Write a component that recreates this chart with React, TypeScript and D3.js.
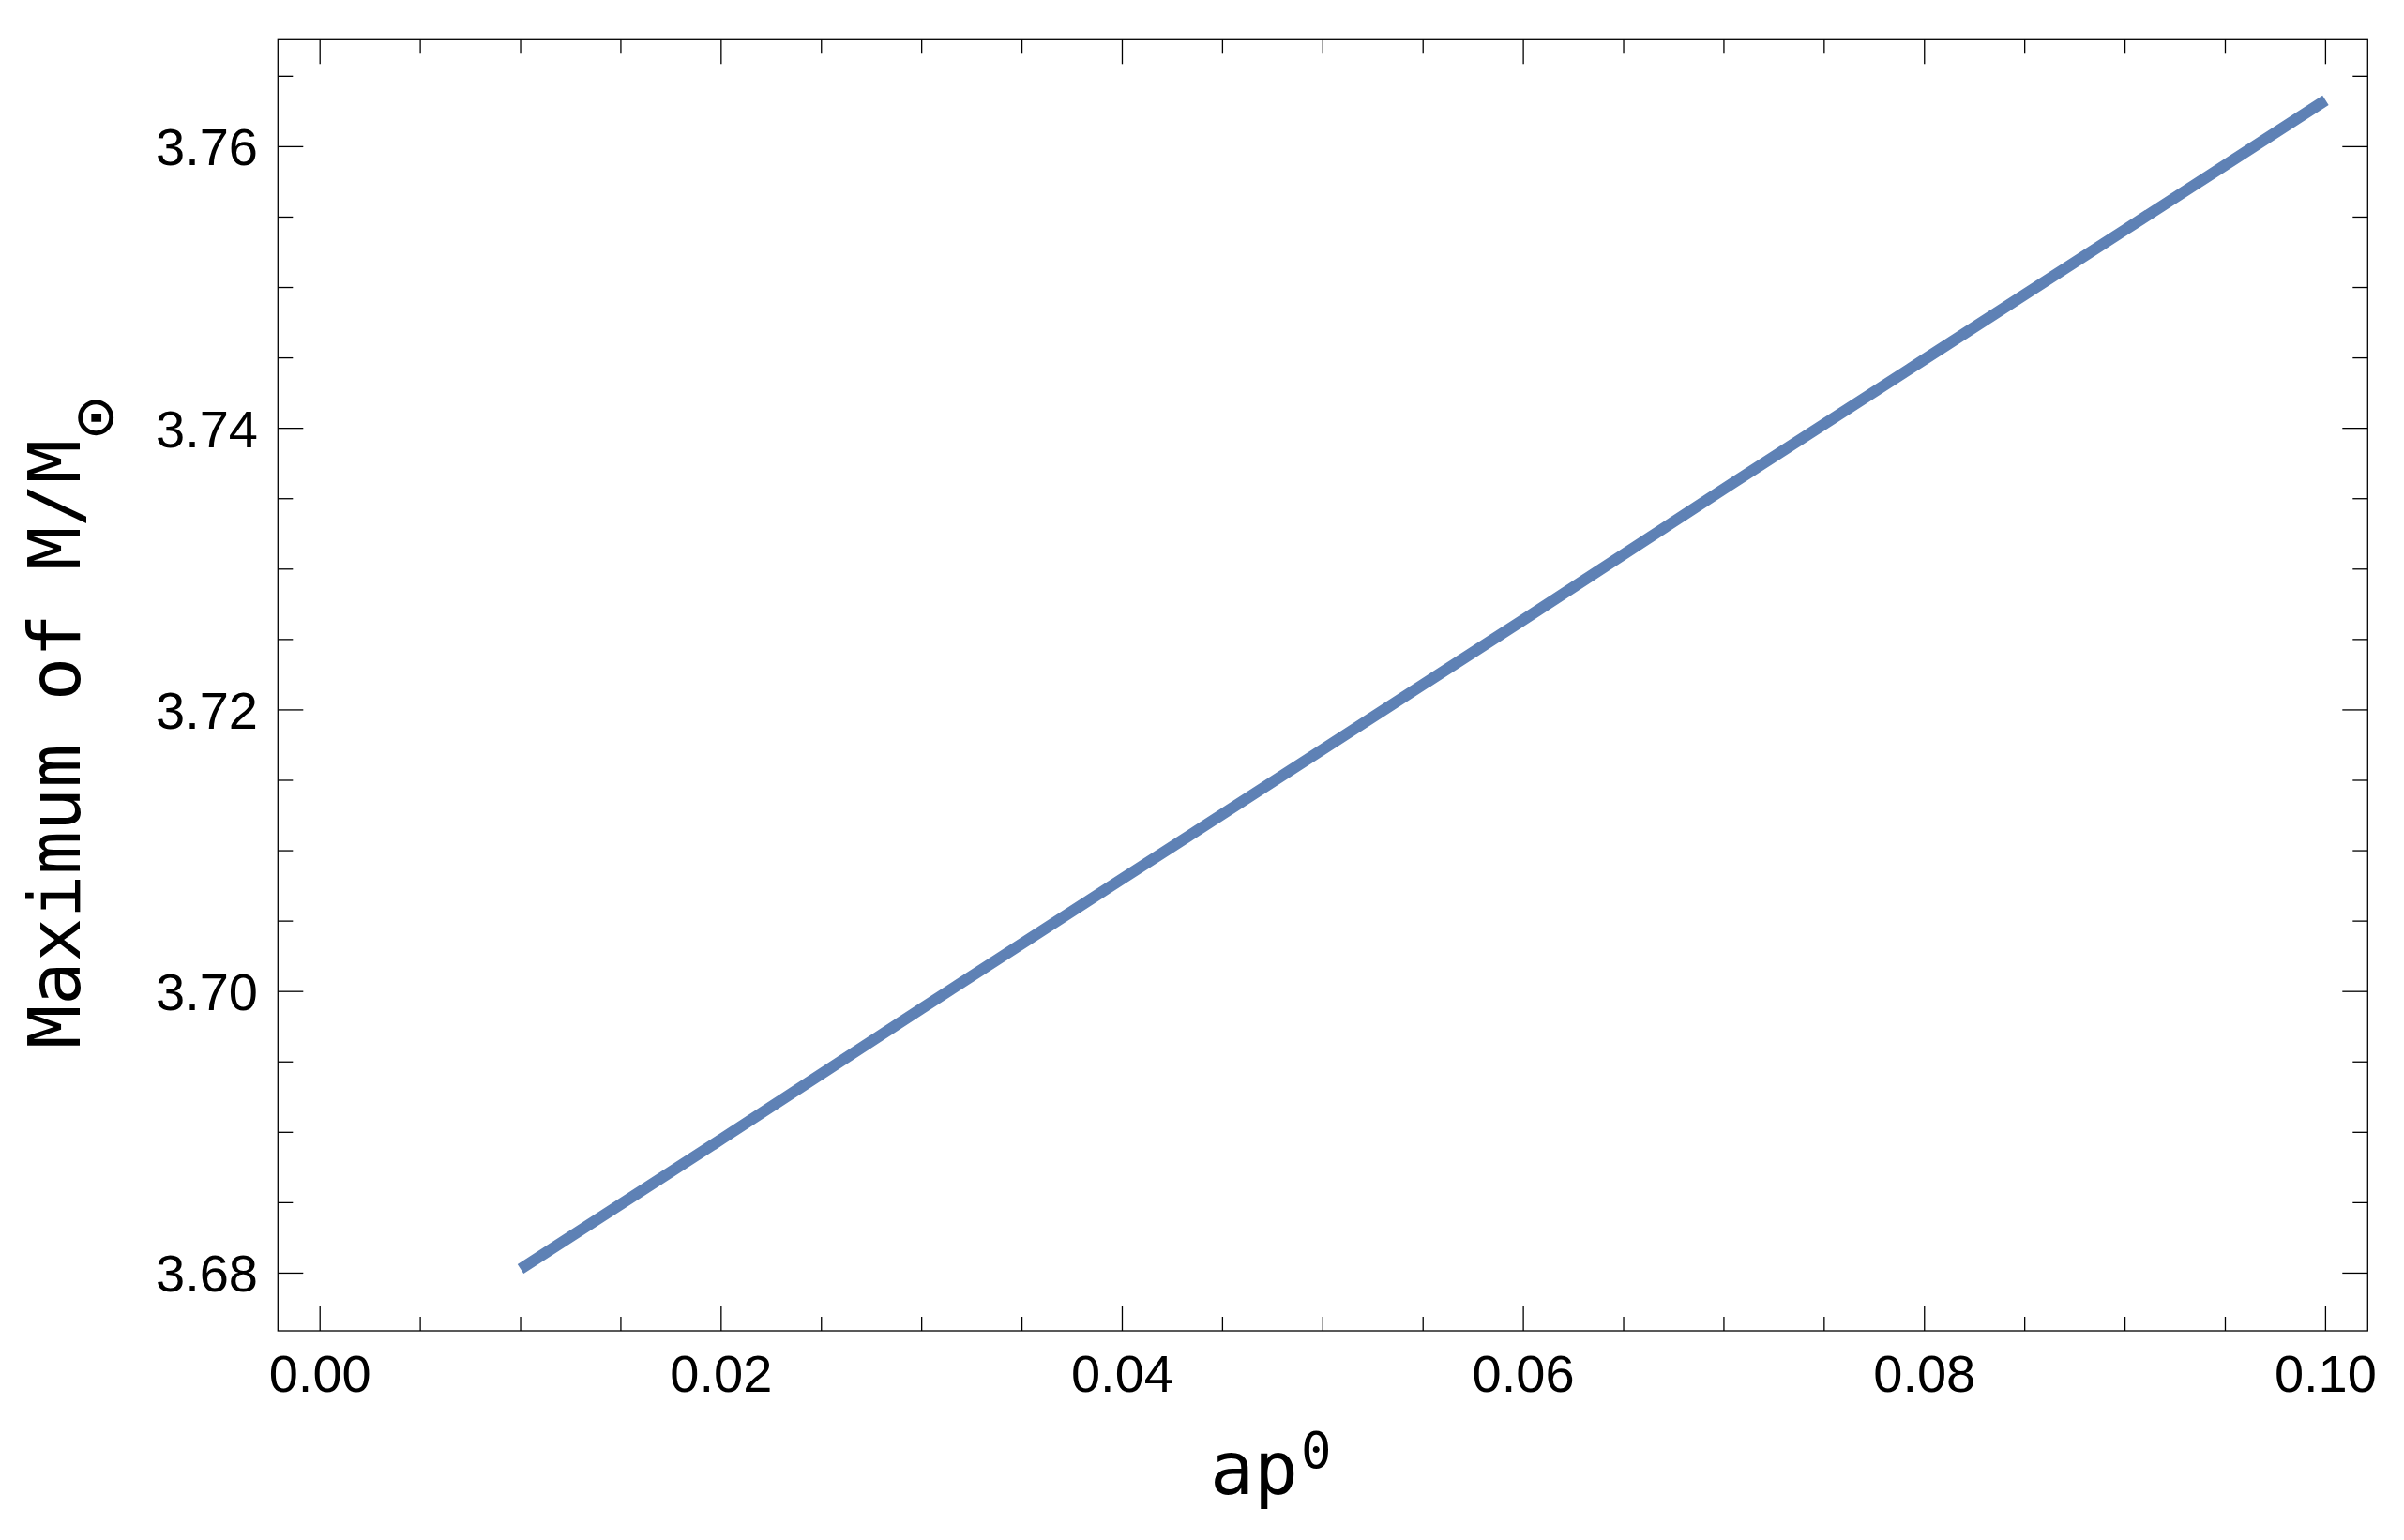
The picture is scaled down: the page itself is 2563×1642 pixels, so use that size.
import React from "react";
import { scaleLinear, line, range, format } from "d3";

// ap^0 values and the maximum mass
const apValues = [0.01, 0.02, 0.03, 0.04, 0.05, 0.06, 0.07, 0.08, 0.09, 0.1];
const maxMass = [3.6803, 3.6895, 3.6988, 3.708, 3.7172, 3.7264, 3.7357, 3.7449, 3.7541, 3.7633];

const xMajor = [0, 0.02, 0.04, 0.06, 0.08, 0.1];
const yMajor = [3.68, 3.7, 3.72, 3.74, 3.76];

const W = 2563;
const H = 1642;

const App = () => {
  const x = scaleLinear().domain([-0.0021, 0.1021]).range([296.3, 2524.3]);
  const y = scaleLinear().domain([3.6759, 3.7676]).range([1419, 42.3]);

  const xMinor = range(0, 0.1001, 0.005).filter((v) => x(v) > x.range()[0] && x(v) < x.range()[1]);
  const yMinor = range(3.68, 3.7676, 0.005).filter((v) => y(v) < y.range()[0] && y(v) > y.range()[1]);

  const path = line<number>()
    .x((d) => x(d))
    .y((_, i) => y(maxMass[i]));

  const fmt = format(".2f");
  const [x0, x1] = x.range();
  const [y0, y1] = y.range();
  const tickFont = "'Liberation Sans', Arial, sans-serif";
  const labelFont = "'DejaVu Sans Mono', monospace";

  return (
    <svg width={W} height={H} style={{ position: "absolute", left: 0, top: 0, background: "#fff" }}>
      <rect x={0} y={0} width={W} height={H} fill="#fff" />
      <g stroke="#000" strokeWidth={1.3}>
        {xMinor.map((v, i) => {
          const major = xMajor.some((m) => Math.abs(m - v) < 1e-9);
          const len = major ? 26 : 15;
          return (
            <g key={"x" + i}>
              <line x1={x(v)} x2={x(v)} y1={y0} y2={y0 - len} />
              <line x1={x(v)} x2={x(v)} y1={y1} y2={y1 + len} />
            </g>
          );
        })}
        {yMinor.map((v, i) => {
          const major = yMajor.some((m) => Math.abs(m - v) < 1e-9);
          const len = major ? 27 : 16;
          return (
            <g key={"y" + i}>
              <line x1={x0} x2={x0 + len} y1={y(v)} y2={y(v)} />
              <line x1={x1} x2={x1 - len} y1={y(v)} y2={y(v)} />
            </g>
          );
        })}
        <rect x={x0} y={y1} width={x1 - x0} height={y0 - y1} fill="none" />
      </g>

      <path d={path(apValues) || ""} fill="none" stroke="#5e81b5" strokeWidth={12} strokeLinecap="butt" />

      <g fontFamily={tickFont} fontSize={56} fill="#000">
        {xMajor.map((v) => (
          <text key={v} x={x(v)} y={1484} textAnchor="middle">
            {fmt(v)}
          </text>
        ))}
        {yMajor.map((v) => (
          <text key={v} x={275} y={y(v) + 20} textAnchor="end">
            {fmt(v)}
          </text>
        ))}
      </g>

      <text x={1290} y={1593} fontFamily={labelFont} fontSize={78} fill="#000">
        ap
        <tspan fontSize={54} dx={3} dy={-28}>0</tspan>
      </text>

      <text
        transform="translate(85,1118) rotate(-90)"
        fontFamily={labelFont}
        fontSize={77}
        fill="#000"
      >
        Maximum of M/M
        <tspan fontSize={72} dx={2} dy={40}>⊙</tspan>
      </text>
    </svg>
  );
};

export default App;
